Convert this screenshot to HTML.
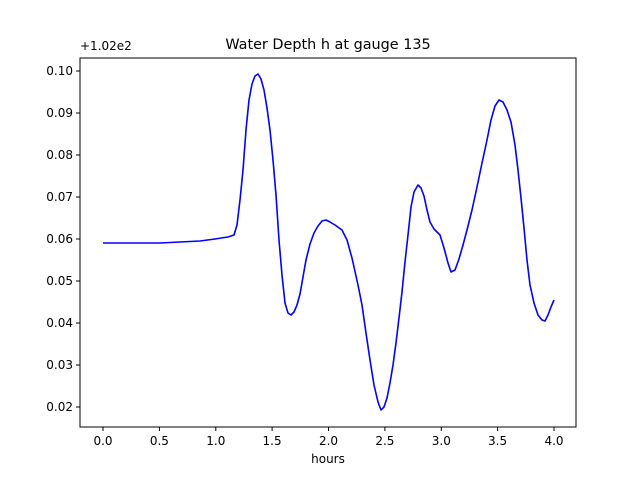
<!DOCTYPE html>
<html><head><style>body{margin:0;background:#fff}svg{display:block}text{font-family:"DejaVu Sans","Liberation Sans",sans-serif;font-size:12px;fill:#000}</style></head>
<body>
<svg width="640" height="480" xmlns="http://www.w3.org/2000/svg">
<rect width="640" height="480" fill="#fff"/>
<text x="328" y="49" text-anchor="middle" style="font-size:14.4px">Water Depth h at gauge 135</text>
<text x="80" y="50" >+1.02e2</text>
<polyline fill="none" stroke="#0000ff" stroke-width="1.6" stroke-linejoin="round" points="103,243 160,243 200,241 215,239 228,237 234,235 237,225 240,200 243,170 246,130 249,100 252,84 255,76 258,74 261,79 264,90 267,108 270,130 273,160 276,195 279,240 282,275 285,303 288,313 291,315 294,312 297,305 300,294 303,277 306,260 310,244 314,233 318,226 322,221 326,220 330,222 335,225 342,230 347,240 352,258 358,285 362,305 366,333 370,360 374,385 378,402 381,410 384,407 387,398 390,383 393,365 396,343 399,318 402,292 405,262 408,235 411,207 414,192 418,185 421,188 424,196 427,210 430,222 434,229 440,235 444,248 448,263 451,272 455,270 459,259 463,245 467,230 472,210 477,187 482,163 487,140 491,120 495,106 499,100 503,102 507,110 511,122 515,145 518,170 521,198 524,228 527,260 530,285 534,303 538,315 542,320 545,321 548,315 551,307 554,300"/>
<rect x="80" y="58" width="496" height="369" fill="none" stroke="#000" stroke-width="1"/>
<g stroke="#000">
<line x1="103" y1="427" x2="103" y2="431"/><line x1="159.4" y1="427" x2="159.4" y2="431"/><line x1="215.8" y1="427" x2="215.8" y2="431"/><line x1="272.1" y1="427" x2="272.1" y2="431"/><line x1="328.5" y1="427" x2="328.5" y2="431"/><line x1="384.9" y1="427" x2="384.9" y2="431"/><line x1="441.3" y1="427" x2="441.3" y2="431"/><line x1="497.6" y1="427" x2="497.6" y2="431"/><line x1="554" y1="427" x2="554" y2="431"/>
<line x1="76" y1="407" x2="80" y2="407"/><line x1="76" y1="365" x2="80" y2="365"/><line x1="76" y1="323" x2="80" y2="323"/><line x1="76" y1="281" x2="80" y2="281"/><line x1="76" y1="239" x2="80" y2="239"/><line x1="76" y1="197" x2="80" y2="197"/><line x1="76" y1="155" x2="80" y2="155"/><line x1="76" y1="113" x2="80" y2="113"/><line x1="76" y1="71" x2="80" y2="71"/>
</g>
<g text-anchor="middle">
<text x="103" y="445">0.0</text><text x="159.4" y="445">0.5</text><text x="215.8" y="445">1.0</text><text x="272.1" y="445">1.5</text><text x="328.5" y="445">2.0</text><text x="384.9" y="445">2.5</text><text x="441.3" y="445">3.0</text><text x="497.6" y="445">3.5</text><text x="554" y="445">4.0</text>
<text x="328" y="463">hours</text>
</g>
<g text-anchor="end">
<text x="73" y="411">0.02</text><text x="73" y="369">0.03</text><text x="73" y="327">0.04</text><text x="73" y="285">0.05</text><text x="73" y="243">0.06</text><text x="73" y="201">0.07</text><text x="73" y="159">0.08</text><text x="73" y="117">0.09</text><text x="73" y="75">0.10</text>
</g>
</svg>
</body></html>
